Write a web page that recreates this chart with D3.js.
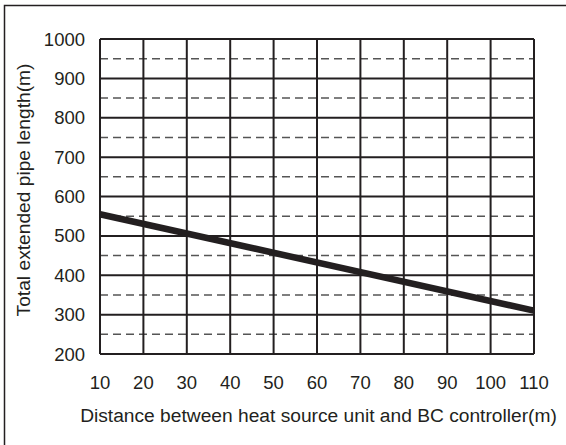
<!DOCTYPE html>
<html>
<head>
<meta charset="utf-8">
<script src="https://cdn.jsdelivr.net/npm/d3@7/dist/d3.min.js"></script>
<style>
  html, body { margin: 0; padding: 0; background: #fff; }
  svg text { font-family: "Liberation Sans", Arial, sans-serif; fill: #231f20; }
</style>
</head>
<body>
<svg id="chart" width="566" height="445"></svg>
<script>
// Distance between heat source unit and BC controller (m) vs. allowed total pipe length (m)
const distance = [10, 110];
const totalLength = [555, 310];

const xTicks = [10, 20, 30, 40, 50, 60, 70, 80, 90, 100, 110];
const yTicks = [200, 300, 400, 500, 600, 700, 800, 900, 1000];
const yHalfTicks = [250, 350, 450, 550, 650, 750, 850, 950];

const xTitle = "Distance between heat source unit and BC controller(m)";
const yTitle = "Total extended pipe length(m)";

const svg = d3.select("#chart");
const plot = { left: 100, right: 534, top: 39, bottom: 354 };

const x = d3.scaleLinear().domain([10, 110]).range([plot.left, plot.right]);
const y = d3.scaleLinear().domain([200, 1000]).range([plot.bottom, plot.top]);

// outer frame (left and top edges)
svg.append("path")
  .attr("d", "M4.5,445 V5.5 H566")
  .attr("fill", "none")
  .attr("stroke", "#231f20")
  .attr("stroke-width", 1.5);

// dashed half-step grid lines
svg.append("g").selectAll("line").data(yHalfTicks).join("line")
  .attr("x1", plot.left).attr("x2", plot.right)
  .attr("y1", d => y(d)).attr("y2", d => y(d))
  .attr("stroke", "#555")
  .attr("stroke-width", 1.5)
  .attr("stroke-dasharray", "8,5");

// solid grid lines
svg.append("g").selectAll("line").data(yTicks).join("line")
  .attr("x1", plot.left).attr("x2", plot.right)
  .attr("y1", d => y(d)).attr("y2", d => y(d))
  .attr("stroke", "#231f20")
  .attr("stroke-width", 2);

svg.append("g").selectAll("line").data(xTicks).join("line")
  .attr("x1", d => x(d)).attr("x2", d => x(d))
  .attr("y1", plot.top).attr("y2", plot.bottom)
  .attr("stroke", "#231f20")
  .attr("stroke-width", 2);

// tick labels
svg.append("g").selectAll("text").data(yTicks).join("text")
  .attr("x", 85).attr("y", d => y(d))
  .attr("text-anchor", "end")
  .attr("dominant-baseline", "central")
  .attr("font-size", 18.5)
  .text(d => d);

svg.append("g").selectAll("text").data(xTicks).join("text")
  .attr("x", d => x(d)).attr("y", 382)
  .attr("text-anchor", "middle")
  .attr("dominant-baseline", "central")
  .attr("font-size", 18.5)
  .text(d => d);

// axis titles
svg.append("text")
  .attr("x", 318.5).attr("y", 415)
  .attr("text-anchor", "middle")
  .attr("dominant-baseline", "central")
  .attr("font-size", 19.2)
  .text(xTitle);

svg.append("text")
  .attr("transform", "translate(23,190) rotate(-90)")
  .attr("text-anchor", "middle")
  .attr("dominant-baseline", "central")
  .attr("font-size", 19.2)
  .text(yTitle);

// limit line
const line = d3.line().x(d => x(d[0])).y(d => y(d[1]));
svg.append("path")
  .datum(distance.map((d, i) => [d, totalLength[i]]))
  .attr("d", line)
  .attr("fill", "none")
  .attr("stroke", "#231f20")
  .attr("stroke-width", 6.5);
</script>
</body>
</html>
